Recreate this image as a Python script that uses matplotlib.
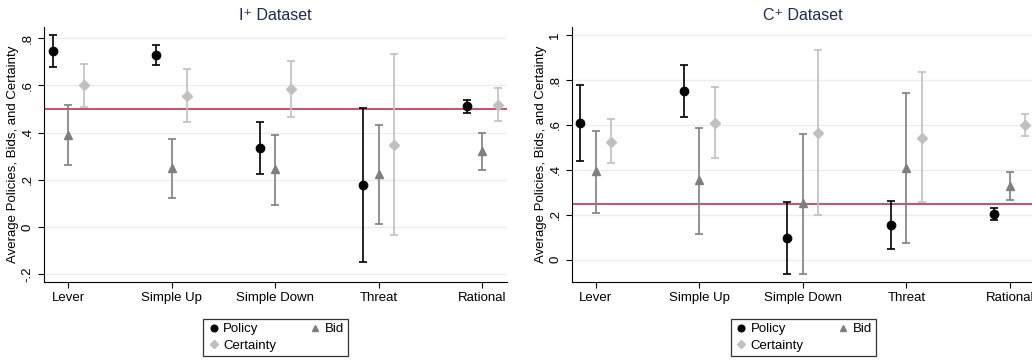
import numpy as np
import matplotlib
matplotlib.use("Agg")
import matplotlib.pyplot as plt

plt.rcParams['font.family'] = ['Liberation Sans', 'DejaVu Sans']

conditions = ["Lever", "Simple Up", "Simple Down", "Threat", "Rational"]

# I+ dataset: mean, ci low, ci high
i_policy = [0.746, 0.729, 0.333, 0.177, 0.513]
i_policy_lo = [0.677, 0.685, 0.223, -0.151, 0.485]
i_policy_hi = [0.815, 0.771, 0.443, 0.505, 0.540]
i_bid = [0.391, 0.251, 0.247, 0.223, 0.320]
i_bid_lo = [0.264, 0.123, 0.094, 0.013, 0.240]
i_bid_hi = [0.515, 0.374, 0.390, 0.434, 0.397]
i_cert = [0.600, 0.556, 0.584, 0.349, 0.519]
i_cert_lo = [0.509, 0.444, 0.467, -0.033, 0.449]
i_cert_hi = [0.692, 0.671, 0.702, 0.732, 0.590]
i_ref = 0.5

# C+ dataset
c_policy = [0.607, 0.751, 0.098, 0.156, 0.204]
c_policy_lo = [0.439, 0.637, -0.062, 0.050, 0.175]
c_policy_hi = [0.779, 0.865, 0.259, 0.262, 0.232]
c_bid = [0.393, 0.353, 0.252, 0.407, 0.330]
c_bid_lo = [0.210, 0.116, -0.062, 0.073, 0.265]
c_bid_hi = [0.573, 0.585, 0.560, 0.741, 0.390]
c_cert = [0.526, 0.610, 0.566, 0.544, 0.599]
c_cert_lo = [0.430, 0.452, 0.197, 0.255, 0.550]
c_cert_hi = [0.627, 0.770, 0.933, 0.834, 0.650]
c_ref = 0.25

i_ticks = [-0.2, 0, 0.2, 0.4, 0.6, 0.8]
i_ticklabels = ["-.2", "0", ".2", ".4", ".6", ".8"]
c_ticks = [0, 0.2, 0.4, 0.6, 0.8, 1]
c_ticklabels = ["0", ".2", ".4", ".6", ".8", "1"]

title_col = "#1c2b55"
grid_col = "#e6eef0"


def panel(ax, title, series, ref, ylim, yticks, yticklabels):
    x = np.arange(1, len(conditions) + 1)
    styles = [("Policy", "o", "black", -0.15, 6.0),
              ("Bid", "^", "#7f7f7f", 0.0, 6.0),
              ("Certainty", "D", "#c0c0c0", 0.15, 5.0)]
    for (name, mk, col, off, ms), (m, lo, hi) in zip(styles, series):
        m = np.array(m)
        err = np.array([m - np.array(lo), np.array(hi) - m])
        ax.errorbar(x + off, m, yerr=err, fmt=mk, color=col, ecolor=col,
                    ms=ms, capsize=3, elinewidth=1.2, capthick=1.2,
                    label=name, zorder=3)
    ax.axhline(ref, color="#c8405f", lw=1.3, zorder=2)
    ax.set_xlim(0.766, 5.24)
    ax.set_ylim(*ylim)
    ax.set_xticks(x)
    ax.set_xticklabels(conditions, fontsize=9.5)
    ax.set_yticks(yticks)
    ax.set_yticklabels(yticklabels, rotation=90, va="center", fontsize=9.5)
    ax.yaxis.grid(True, color=grid_col, lw=1.0, zorder=0)
    ax.set_axisbelow(True)
    for s in ["top", "right"]:
        ax.spines[s].set_visible(False)
    ax.tick_params(direction="out", length=4, width=0.8)
    ax.set_ylabel("Average Policies, Bids, and Certainty", fontsize=9.5,
                  labelpad=2)
    ax.set_title(title, color=title_col, fontsize=11.5, pad=5)
    h, l = ax.get_legend_handles_labels()
    order = [0, 2, 1]
    leg = ax.legend([h[i][0] for i in order], [l[i] for i in order], ncol=2,
                    loc="upper center", bbox_to_anchor=(0.5, -0.12),
                    frameon=True, fancybox=False, edgecolor="black",
                    fontsize=9.5, handletextpad=0.2, columnspacing=2.5,
                    handlelength=1.0, borderpad=0.3, labelspacing=0.3,
                    markerscale=0.8)
    leg.get_frame().set_linewidth(0.9)


fig = plt.figure(figsize=(10.32, 3.6), dpi=100)
ax1 = fig.add_axes([44 / 1032, 78 / 360, 463 / 1032, 255 / 360])
ax2 = fig.add_axes([571.7 / 1032, 78 / 360, 463 / 1032, 255 / 360])

panel(ax1, "I\u207a Dataset",
      [(i_policy, i_policy_lo, i_policy_hi), (i_bid, i_bid_lo, i_bid_hi),
       (i_cert, i_cert_lo, i_cert_hi)],
      i_ref, (-0.234, 0.848), i_ticks, i_ticklabels)
panel(ax2, "C\u207a Dataset",
      [(c_policy, c_policy_lo, c_policy_hi), (c_bid, c_bid_lo, c_bid_hi),
       (c_cert, c_cert_lo, c_cert_hi)],
      c_ref, (-0.099, 1.036), c_ticks, c_ticklabels)

fig.savefig("out.png", dpi=100)
